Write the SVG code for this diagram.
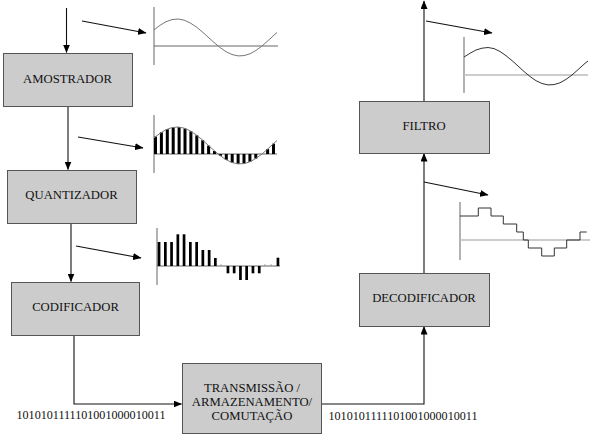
<svg xmlns="http://www.w3.org/2000/svg" width="604" height="445" viewBox="0 0 604 445">
<style>
.box{fill:#cccccc;stroke:#555;stroke-width:1}
.lbl{font-family:'Liberation Serif','Times New Roman',serif;font-size:12.7px;fill:#111;text-anchor:middle}
.bin{font-family:'Liberation Serif','Times New Roman',serif;font-size:12.1px;fill:#111}
.con{fill:none;stroke:#111;stroke-width:1.1}
.ax{fill:none;stroke:#666;stroke-width:1}
.axl{fill:none;stroke:#bbbbbb;stroke-width:1.6}
.wave{fill:none;stroke:#777;stroke-width:1}
.wave2{fill:none;stroke:#333;stroke-width:1}
.bar{fill:#000}
</style>
<defs>
<marker id="ah" markerWidth="9" markerHeight="7" refX="8" refY="3.5" orient="auto" markerUnits="userSpaceOnUse">
<path d="M0,0 L8.5,3.5 L0,7 z" fill="#000"/>
</marker>
</defs>
<rect width="604" height="445" fill="#fff"/>

<g id="connectors">
<line class="con" x1="66.5" y1="8" x2="66.5" y2="52.5" marker-end="url(#ah)"/>
<line class="con" x1="68" y1="106" x2="68" y2="169.5" marker-end="url(#ah)"/>
<line class="con" x1="71" y1="223" x2="71" y2="281.5" marker-end="url(#ah)"/>
<polyline class="con" points="74,335 74,404 181.5,404" marker-end="url(#ah)"/>
<polyline class="con" points="321,404 424,404 424,326.5" marker-end="url(#ah)"/>
<line class="con" x1="424" y1="273" x2="424" y2="153.5" marker-end="url(#ah)"/>
<line class="con" x1="424" y1="101" x2="424" y2="1" marker-end="url(#ah)"/>
<line class="con" x1="82" y1="21" x2="146" y2="33" marker-end="url(#ah)"/>
<line class="con" x1="78" y1="137" x2="143" y2="148" marker-end="url(#ah)"/>
<line class="con" x1="76" y1="246" x2="141" y2="258" marker-end="url(#ah)"/>
<line class="con" x1="426" y1="21" x2="492" y2="33" marker-end="url(#ah)"/>
<line class="con" x1="424" y1="182" x2="488" y2="195" marker-end="url(#ah)"/>
</g>

<g id="amostrador">
<rect class="box" x="3.5" y="53.5" width="129" height="53"/>
<text class="lbl" x="67.5" y="82.5">AMOSTRADOR</text>
</g>
<g id="quantizador">
<rect class="box" x="7.5" y="170.5" width="129" height="53"/>
<text class="lbl" x="71.5" y="199">QUANTIZADOR</text>
</g>
<g id="codificador">
<rect class="box" x="11.5" y="282.5" width="128" height="53"/>
<text class="lbl" x="75.5" y="311">CODIFICADOR</text>
</g>
<g id="transmissao">
<rect class="box" x="182.5" y="363.5" width="139" height="70"/>
<text class="lbl" x="252" y="391.5">TRANSMISSÃO /</text>
<text class="lbl" x="252" y="405.5">ARMAZENAMENTO/</text>
<text class="lbl" x="252" y="420">COMUTAÇÃO</text>
</g>
<g id="decodificador">
<rect class="box" x="359.5" y="273.5" width="130" height="53"/>
<text class="lbl" x="424" y="302">DECODIFICADOR</text>
</g>
<g id="filtro">
<rect class="box" x="359.5" y="101.5" width="130" height="52"/>
<text class="lbl" x="424" y="130">FILTRO</text>
</g>

<g id="bits">
<text class="bin" x="16.5" y="419">1010101111101001000010011</text>
<text class="bin" x="328.5" y="419.5">1010101111101001000010011</text>
</g>

<g id="graph-sampled-input">
<line class="ax" x1="154" y1="7" x2="154" y2="65"/>
<line class="ax" x1="154" y1="46" x2="278" y2="46" stroke="#555"/>
<polyline class="wave" points="154,29.9 160,25.3 166,21.7 172,19.6 178,19 184,20.1 190,22.8 196,26.7 202,31.6 208,37 214,42.5 220,47.5 226,51.7 232,54.5 238,55.9 244,55.6 250,53.8 256,50.4 262,46 268,40.7 274,35.2 277,32.5"/>
</g>

<g id="graph-samples">
<line class="ax" x1="154" y1="115" x2="154" y2="173" stroke="#333"/>
<line class="ax" x1="154" y1="154" x2="277" y2="154" stroke="#333"/>
<g class="bar">
<rect x="154" y="136.6" width="3" height="17.4"/>
<rect x="159.9" y="132.3" width="3" height="21.7"/>
<rect x="165.8" y="129.1" width="3" height="24.9"/>
<rect x="171.7" y="127.3" width="3" height="26.7"/>
<rect x="177.6" y="127.1" width="3" height="26.9"/>
<rect x="183.5" y="128.5" width="3" height="25.5"/>
<rect x="189.4" y="131.3" width="3" height="22.7"/>
<rect x="195.3" y="135.3" width="3" height="18.7"/>
<rect x="201.2" y="140.2" width="3" height="13.8"/>
<rect x="207.1" y="145.6" width="3" height="8.4"/>
<rect x="213" y="151" width="3" height="3"/>
<rect x="218.9" y="154" width="3" height="1.8"/>
<rect x="224.8" y="154" width="3" height="5.9"/>
<rect x="230.7" y="154" width="3" height="8.6"/>
<rect x="236.6" y="154" width="3" height="9.9"/>
<rect x="242.5" y="154" width="3" height="9.6"/>
<rect x="248.4" y="154" width="3" height="7.8"/>
<rect x="254.3" y="154" width="3" height="4.6"/>
<rect x="266.1" y="149.1" width="3" height="4.9"/>
<rect x="272" y="143.7" width="3" height="10.3"/>
</g>
<polyline class="wave" points="154,137.9 160,133.3 166,129.7 172,127.6 178,127 184,128.1 190,130.8 196,134.7 202,139.6 208,145 214,150.5 220,155.5 226,159.7 232,162.5 238,163.9 244,163.6 250,161.8 256,158.4 262,154 268,148.7 274,143.2 277,140.5"/>
</g>

<g id="graph-quantized">
<line class="ax" x1="157" y1="228" x2="157" y2="285" stroke="#888"/>
<line class="ax" x1="157" y1="266" x2="280" y2="266" stroke="#777"/>
<g class="bar">
<rect x="157.7" y="242" width="2.7" height="24"/>
<rect x="164" y="242" width="2.7" height="24"/>
<rect x="170.2" y="242" width="2.7" height="24"/>
<rect x="176.5" y="234.3" width="2.7" height="31.7"/>
<rect x="182.7" y="234.3" width="2.7" height="31.7"/>
<rect x="189" y="242" width="2.7" height="24"/>
<rect x="195.3" y="242" width="2.7" height="24"/>
<rect x="201.5" y="250" width="2.7" height="16"/>
<rect x="207.8" y="250" width="2.7" height="16"/>
<rect x="214" y="258" width="2.7" height="8"/>
<rect x="226.6" y="266" width="2.7" height="7.3"/>
<rect x="232.8" y="266" width="2.7" height="7.3"/>
<rect x="239.1" y="266" width="2.7" height="14"/>
<rect x="245.3" y="266" width="2.7" height="14"/>
<rect x="251.6" y="266" width="2.7" height="7.3"/>
<rect x="257.9" y="266" width="2.7" height="7.3"/>
<rect x="276.6" y="257.7" width="2.7" height="8.3"/>
</g>
<g fill="#999">
<rect x="220.3" y="264.5" width="1.5" height="1.5"/>
<rect x="264.1" y="264.5" width="1.5" height="1.5"/>
<rect x="270.4" y="264.5" width="1.5" height="1.5"/>
</g>
</g>

<g id="graph-filtered-output">
<line class="ax" x1="464" y1="37" x2="464" y2="93"/>
<line class="axl" x1="464" y1="75" x2="588" y2="75"/>
<polyline class="wave2" points="464,57 470,53.3 476,50 482,48.2 488,47.5 494,48.6 500,51.5 506,55.7 512,60.6 518,66 524,71.5 530,76.5 536,80.7 542,83.5 548,84.9 554,84.6 560,82.8 566,79.4 572,75 578,69.7 584,64.2 588,61"/>
</g>

<g id="graph-staircase">
<line class="ax" x1="460" y1="202" x2="460" y2="260" stroke="#444"/>
<line class="axl" x1="460" y1="240" x2="590" y2="240"/>
<path class="wave2" stroke="#444" d="M460,216 H478.3 V208 H491 V216 H503.3 V224 H516.7 V232 H523.3 V240 H528.3 V248 H541.7 V256 H554.3 V248 H566.7 V240 H580 V232 H586.7"/>
</g>
</svg>
